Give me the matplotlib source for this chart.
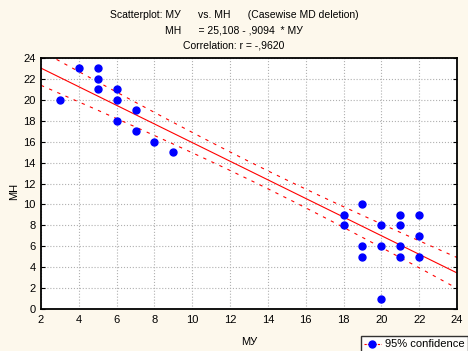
import numpy as np
import matplotlib.pyplot as plt

plt.rcParams['font.family'] = ['Liberation Sans', 'DejaVu Sans']

# data
mu = [3, 4, 5, 5, 5, 6, 6, 6, 7, 7, 8, 9,
      18, 18, 19, 19, 19, 20, 20, 20, 21, 21, 21, 21, 22, 22, 22]
mn = [20, 23, 23, 22, 21, 21, 20, 18, 19, 17, 16, 15,
      9, 8, 10, 6, 5, 8, 6, 1, 9, 8, 6, 5, 9, 7, 5]
x_ticks = list(range(2, 25, 2))
y_ticks = list(range(0, 25, 2))

x = np.array(mu, dtype=float)
y = np.array(mn, dtype=float)
n = len(x)
b, a = np.polyfit(x, y, 1)
resid = y - (a + b * x)
s = np.sqrt(np.sum(resid ** 2) / (n - 2))
sxx = np.sum((x - x.mean()) ** 2)
t = 2.060  # t(0.975, 25)

xs = np.linspace(2, 24, 200)
fit = a + b * xs
half = t * s * np.sqrt(1 / n + (xs - x.mean()) ** 2 / sxx)

fig = plt.figure(figsize=(4.68, 3.51), dpi=100, facecolor='#fdf8ec')
ax = fig.add_axes([0.0876, 0.1197, 0.889, 0.715])
ax.set_facecolor('white')

ax.plot(xs, fit, color='red', lw=0.8)
ax.plot(xs, fit + half, color='red', lw=0.8, ls=(0, (3, 5)))
ax.plot(xs, fit - half, color='red', lw=0.8, ls=(0, (3, 5)))
ax.plot(x, y, 'o', color='#0000ff', ms=5, mec='#0000ff', zorder=3)

ax.set_xlim(2, 24)
ax.set_ylim(0, 24)
ax.set_xticks(x_ticks)
ax.set_yticks(y_ticks)
ax.grid(True, color='#b0b0b0', ls=':', lw=0.8)
ax.tick_params(labelsize=8, length=0, pad=4)
ax.tick_params(axis='y', right=True, direction='in', length=3)
for sp in ax.spines.values():
    sp.set_linewidth(1.3)

ax.set_xlabel('МУ', fontsize=8, labelpad=9)
ax.set_ylabel('МН', fontsize=8)
ax.yaxis.set_label_coords(-0.052, 0.47)

fig.text(0.5, 0.957, 'Scatterplot: МУ      vs. МН      (Casewise MD deletion)',
         ha='center', va='center', fontsize=7.5)
fig.text(0.5, 0.913, 'МН      = 25,108 - ,9094  * МУ', ha='center', va='center', fontsize=7.5)
fig.text(0.5, 0.87, 'Correlation: r = -,9620', ha='center', va='center', fontsize=7.5)

h, = ax.plot([], [], color='red', lw=0.8, ls=(0, (2, 1)), marker='o',
             mfc='#0000ff', mec='#0000ff', ms=5)
leg = fig.legend([h], ['95% confidence'], loc='lower right',
                 bbox_to_anchor=(1.0, -0.005), fontsize=8, frameon=True,
                 fancybox=False, borderpad=0.3, handlelength=1.5,
                 handletextpad=0.4, borderaxespad=0)
leg.get_frame().set_edgecolor('black')
leg.get_frame().set_facecolor('white')
leg.get_frame().set_linewidth(1.0)

fig.savefig('out.png', dpi=100, facecolor=fig.get_facecolor())
